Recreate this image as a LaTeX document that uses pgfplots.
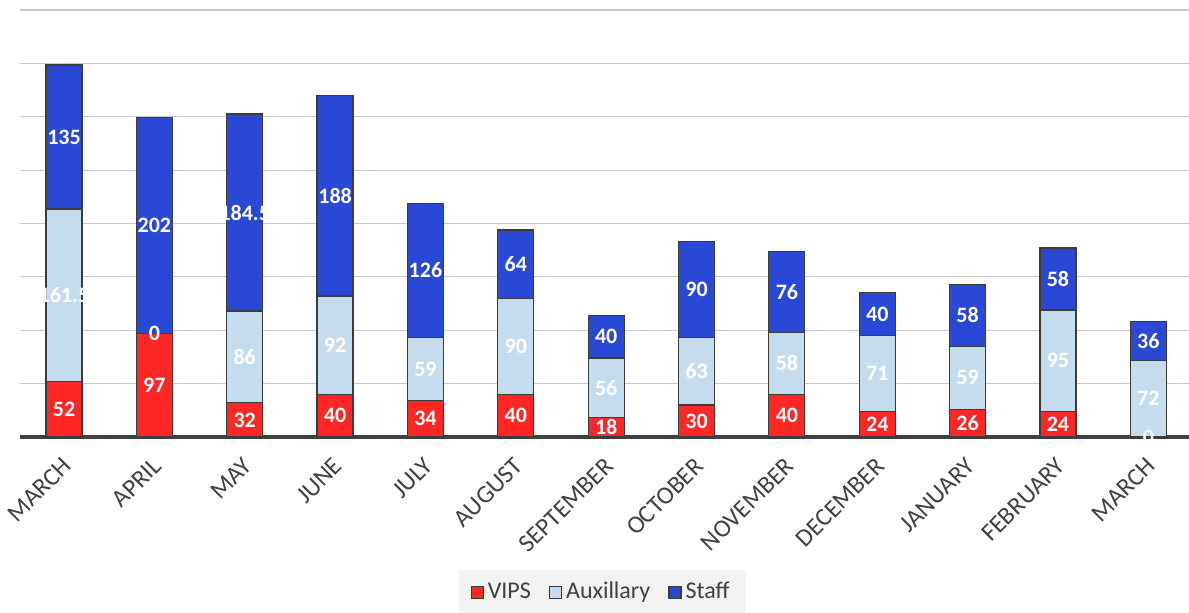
\documentclass[border=0pt]{standalone}
\usepackage{pgfplots}
\pgfplotsset{compat=1.18}
\usepackage{fontspec}
\setmainfont{Carlito}
\definecolor{cvips}{RGB}{255,38,38}
\definecolor{caux}{RGB}{197,220,238}
\definecolor{cstaff}{RGB}{42,72,214}
\definecolor{cedge}{RGB}{60,60,60}
\definecolor{ctext}{RGB}{64,64,64}
\definecolor{cgrid}{RGB}{200,200,200}
\definecolor{clegbg}{RGB}{243,243,243}
\pgfplotsset{common/.style={
  at={(10pt,87.5pt)}, anchor=south west,
  scale only axis, width=584.5pt, height=213.5pt,
  xmin=-0.487, xmax=12.45, ymin=0, ymax=400}}
\begin{document}
\begin{tikzpicture}
\path[use as bounding box] (0,0) rectangle (594.5pt,306pt);
\begin{axis}[
  common,
  ybar stacked, bar width=18pt,
  xtick={0,...,12},
  xticklabels={MARCH,APRIL,MAY,JUNE,JULY,AUGUST,SEPTEMBER,OCTOBER,NOVEMBER,DECEMBER,JANUARY,FEBRUARY,MARCH},
  x tick label style={xshift=-1.5pt, yshift=-8pt, rotate=45, anchor=north east, font=\fontsize{12.5}{14}\selectfont, text=ctext, inner sep=1pt},
  ytick={0,50,...,400}, yticklabels={},
  ymajorgrids, grid style={cgrid, line width=0.6pt},
  axis x line*=bottom, axis y line*=left,
  y axis line style={draw=none},
  x axis line style={draw=ctext, line width=1.6pt, -},
  xtick style={draw=none}, ytick style={draw=none},
  legend columns=3,
  legend style={at={(0.498,-0.363)}, anchor=center, fill=clegbg, draw=none, font=\fontsize{12}{14}\selectfont, text=ctext, inner xsep=6pt, inner ysep=4pt,
    /tikz/every even column/.append style={column sep=7pt}},
  legend image code/.code={\draw[#1] (0pt,-3.2pt) rectangle (6pt,2.8pt);},
]
\addplot[fill=cvips, draw=cedge, line width=0.6pt] coordinates {
(0,52) (1,97) (2,32) (3,40) (4,34) (5,40) (6,18) (7,30) (8,40) (9,24) (10,26) (11,24) (12,0)};
\addplot[fill=caux, draw=cedge, line width=0.6pt] coordinates {
(0,161.5) (1,0) (2,86) (3,92) (4,59) (5,90) (6,56) (7,63) (8,58) (9,71) (10,59) (11,95) (12,72)};
\addplot[fill=cstaff, draw=cedge, line width=0.6pt] coordinates {
(0,135) (1,202) (2,184.5) (3,188) (4,126) (5,64) (6,40) (7,90) (8,76) (9,40) (10,58) (11,58) (12,36)};
\legend{VIPS,Auxillary,Staff}
\end{axis}
% value labels at the middle of each segment
\begin{axis}[common, hide axis,
  nodes near coords, point meta=explicit symbolic,
  every node near coord/.append style={anchor=center, font=\fontsize{11}{13}\selectfont\bfseries, text=white}]
\addplot[draw=none, mark=none] coordinates {
(0,26)[52] (1,48.5)[97] (2,16)[32] (3,20)[40] (4,17)[34] (5,20)[40] (6,9)[18] (7,15)[30] (8,20)[40] (9,12)[24] (10,13)[26] (11,12)[24] (12,0)[0]};
\addplot[draw=none, mark=none] coordinates {
(0,132.75)[161.5] (1,97)[0] (2,75)[86] (3,86)[92] (4,63.5)[59] (5,85)[90] (6,46)[56] (7,61.5)[63] (8,69)[58] (9,59.5)[71] (10,55.5)[59] (11,71.5)[95] (12,36)[72]};
\addplot[draw=none, mark=none] coordinates {
(0,281)[135] (1,198)[202] (2,210.25)[184.5] (3,226)[188] (4,156)[126] (5,162)[64] (6,94)[40] (7,138)[90] (8,136)[76] (9,115)[40] (10,114)[58] (11,148)[58] (12,90)[36]};
\end{axis}
\end{tikzpicture}
\end{document}
